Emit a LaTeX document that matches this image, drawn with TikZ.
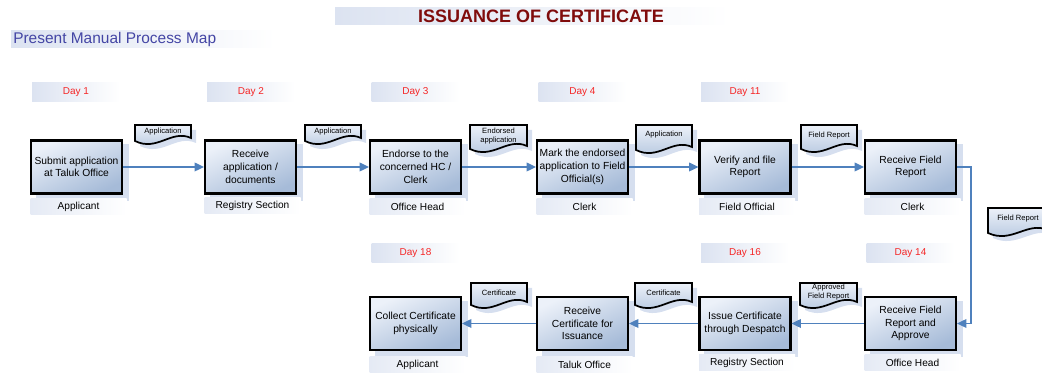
\documentclass[tikz,border=0pt]{standalone}
\usepackage{fontspec}
\setmainfont{Liberation Sans}
\usetikzlibrary{arrows.meta}
\definecolor{arrowblue}{RGB}{79,129,189}
\definecolor{boxtop}{RGB}{236,241,249}
\definecolor{boxbot}{RGB}{166,187,216}
\definecolor{shadowblue}{RGB}{214,223,239}
\definecolor{bgblue}{RGB}{220,227,241}
\definecolor{dayred}{RGB}{245,38,38}
\definecolor{titlered}{RGB}{128,12,12}
\definecolor{subblue}{RGB}{68,70,165}
\pgfdeclarelayer{background}
\pgfsetlayers{background,main}
\newcommand{\wavydoc}[7]{%
  \begin{pgfonlayer}{background}
  \fill[shadowblue] ({#2+5},{#3+5}) -- ({#4+5},{#3+5}) -- ({#4+5},{#5+2}) .. controls ({#4+5-0.35*(#4-#2)},{#5-7}) and ({#2+5+0.4*(#4-#2)},{#5+16}) .. ({#2+5},{#5+5}) -- cycle;
  \end{pgfonlayer}
  \draw[docline] (#2,#3) -- (#4,#3) -- (#4,{#5-3}) .. controls ({#4-0.35*(#4-#2)},{#5-12}) and ({#2+0.4*(#4-#2)},{#5+11}) .. (#2,#5) -- cycle;
  \node[doctext] (#1) at ({(#2+#4)/2},#6) {#7};
}
\begin{document}
\begin{tikzpicture}[x=0.75pt,y=-0.75pt,
  stepbox/.style={draw=black, line width=1.8pt, top color=boxtop, bottom color=boxbot, shading angle=25,
    minimum width=68pt, minimum height=40pt, inner sep=1pt, align=center,
    font=\fontsize{7.7}{9.5}\selectfont},
  daylabel/.style={left color=bgblue, right color=white, minimum width=66pt, minimum height=14pt,
    inner sep=0pt, text=dayred, font=\fontsize{7.5}{9}\selectfont},
  rolelabel/.style={left color=bgblue!75!white, right color=white, minimum width=72pt, minimum height=12pt,
    inner sep=0pt, font=\fontsize{7.6}{9}\selectfont},
  docline/.style={draw=black, line width=1.3pt, top color=boxtop, bottom color=boxbot!90!white},
  doctext/.style={align=center, inner sep=0pt, font=\fontsize{5.7}{6.8}\selectfont},
  arr/.style={draw=arrowblue, line width=1.1pt, -{Triangle[length=7pt,width=6.5pt]}},
  shadowrect/.style={fill=shadowblue}
]
\useasboundingbox (0,0) rectangle (1042,373);

% title and subtitle
\shade[left color=bgblue, right color=white] (335,8) rectangle (730,25);
\node[text=titlered, font=\fontsize{13.5}{16}\selectfont\bfseries, inner sep=0pt] (title) at (541,16.5) {ISSUANCE OF CERTIFICATE};
\shade[left color=bgblue, right color=white] (11,31) rectangle (275,48);
\node[text=subblue, font=\fontsize{11.6}{14}\selectfont, inner sep=0pt, anchor=west] (subtitle) at (13,39.5) {Present Manual Process Map};

% day labels
\node[daylabel] (day1) at (76,92) {Day 1};
\node[daylabel] (day2) at (251,92) {Day 2};
\node[daylabel] (day3) at (415.5,92) {Day 3};
\node[daylabel] (day4) at (582.5,92) {Day 4};
\node[daylabel] (day11) at (745,92) {Day 11};
\node[daylabel] (day18) at (415.5,253) {Day 18};
\node[daylabel] (day16) at (745,253) {Day 16};
\node[daylabel] (day14) at (910.5,253) {Day 14};

% role labels
\node[rolelabel] (r1) at (78.5,207) {Applicant};
\node[rolelabel] (r2) at (252.5,206) {Registry Section};
\node[rolelabel] (r3) at (417.5,207) {Office Head};
\node[rolelabel] (r4) at (584.5,207) {Clerk};
\node[rolelabel] (r5) at (747,207) {Field Official};
\node[rolelabel] (r6) at (912.5,207) {Clerk};
\node[rolelabel] (r7) at (417.5,365) {Applicant};
\node[rolelabel] (r8) at (584.5,365) {Taluk Office};
\node[rolelabel] (r9) at (747,363) {Registry Section};
\node[rolelabel] (r10) at (912.5,363) {Office Head};

% process boxes
\node[stepbox] (t1) at (76.5,167) {Submit application\\at Taluk Office};
\node[stepbox] (t2) at (250.5,167) {Receive\\application /\\documents};
\node[stepbox] (t3) at (415.5,167) {Endorse to the\\concerned HC /\\Clerk};
\node[stepbox] (t4) at (582.5,167) {Mark the endorsed\\application to Field\\Official(s)};
\node[stepbox] (t5) at (745,167) {Verify and file\\Report};
\node[stepbox] (t6) at (910.5,167) {Receive Field\\Report};
\node[stepbox] (s1) at (910.5,323.5) {Receive Field\\Report and\\Approve};
\node[stepbox] (s2) at (745,323.5) {Issue Certificate\\through Despatch};
\node[stepbox] (s3) at (582.5,323.5) {Receive\\Certificate for\\Issuance};
\node[stepbox] (s4) at (415.5,323.5) {Collect Certificate\\physically};

\begin{pgfonlayer}{background}
\foreach \n in {t1,t2,t3,t4,t5,t6,s1,s2,s3,s4}{
  \fill[shadowrect] ([shift={(6,5)}]\n.north west) rectangle ([shift={(6,6)}]\n.south east);
}
\end{pgfonlayer}

% documents
\wavydoc{d1}{135}{125}{191}{141}{132}{Application}
\wavydoc{d2}{305}{125}{361}{141}{132}{Application}
\wavydoc{d3}{470}{125}{527}{149}{136}{Endorsed\\application}
\wavydoc{d4}{636}{125}{692}{150}{135}{Application}
\wavydoc{d5}{801}{125}{857}{149}{136}{Field Report}
\wavydoc{d6}{988}{208}{1048}{233}{219}{Field Report}
\wavydoc{c1}{471}{283}{527}{305}{293}{Certificate}
\wavydoc{c2}{635}{283}{692}{305}{293}{Certificate}
\wavydoc{c3}{800}{283}{857}{305}{292.5}{Approved\\Field Report}

% connectors
\draw[arr] (t1.east) -- (t2.west);
\draw[arr] (t2.east) -- (t3.west);
\draw[arr] (t3.east) -- (t4.west);
\draw[arr] (t4.east) -- (t5.west);
\draw[arr] (t5.east) -- (t6.west);
\draw[arr] (t6.east) -- ++(14,0) |- (s1.east);
\draw[arr] (s1.west) -- (s2.east);
\draw[arr] (s2.west) -- (s3.east);
\draw[arr] (s3.west) -- (s4.east);
\end{tikzpicture}
\end{document}
